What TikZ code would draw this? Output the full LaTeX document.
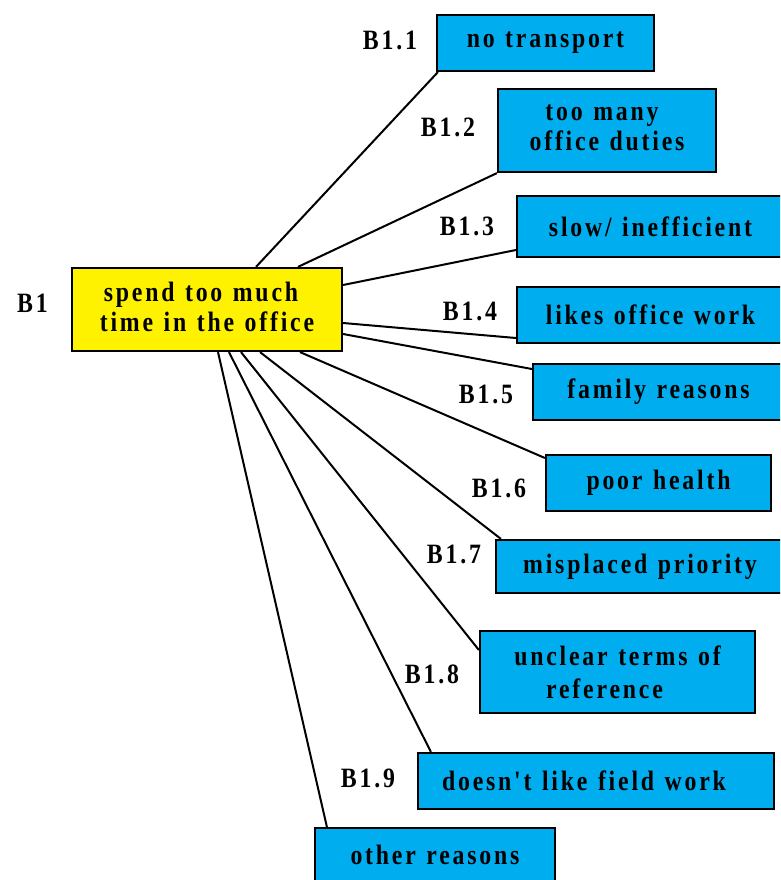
\documentclass[tikz,border=0pt]{standalone}
\usepackage{fontspec}
\newfontfamily\dfont{Liberation Serif}[LetterSpace=10, FakeStretch=0.85, WordSpace=1.2]
\definecolor{boxcyan}{HTML}{00AEEF}
\definecolor{boxyellow}{HTML}{FFF200}
\begin{document}
\begin{tikzpicture}[x=1pt,y=-1pt,
  every node/.style={font=\dfont\bfseries\fontsize{28}{30}\selectfont, align=center, inner sep=0pt},
  causebox/.style={draw=black, line width=2.2pt, fill=boxcyan},
  mainbox/.style={draw=black, line width=2.2pt, fill=boxyellow},
  lbl/.style={},
  conn/.style={draw=black, line width=2pt}]
\clip (0,0) rectangle (780,880);
\fill[white] (0,0) rectangle (780,880);
% main box
\node[mainbox, minimum width=270pt, minimum height=83pt, text depth=6pt] (c) at (207,309.5) {spend too much\hspace*{12pt}\\time in the office};
% cause boxes
\node[causebox, minimum width=217pt, minimum height=56pt] (nt) at (545.5,43) {no transport};
\node[causebox, minimum width=218pt, minimum height=83pt, text depth=6pt] (tm) at (607,130.5) {too many\hspace*{10pt}\\office duties};
\node[causebox, minimum width=267pt, minimum height=61pt] (sl) at (650.5,226.5) {slow/ inefficient};
\node[causebox, minimum width=267pt, minimum height=56pt] (lo) at (650.5,315) {likes office work};
\node[causebox, minimum width=251pt, minimum height=56pt] (fr) at (658.5,392) {family reasons};
\node[causebox, minimum width=225pt, minimum height=56pt] (ph) at (658.5,483) {poor health};
\node[causebox, minimum width=288pt, minimum height=53pt] (mp) at (640,566.5) {misplaced priority};
\node[causebox, minimum width=275pt, minimum height=82pt] (ut) at (617.5,672) {unclear terms of\\[3pt]reference\hspace*{26pt}};
\node[causebox, minimum width=356pt, minimum height=56pt] (dl) at (596,781) {doesn't like field work\hspace*{24pt}};
\node[causebox, minimum width=240pt, minimum height=54pt] (or) at (435,855) {other reasons};
% labels
\node[lbl] (l0) at (32.5,303) {B1};
\node[lbl] (l1) at (390,40) {B1.1};
\node[lbl] (l2) at (448,127) {B1.2};
\node[lbl] (l3) at (467,226) {B1.3};
\node[lbl] (l4) at (470,311) {B1.4};
\node[lbl] (l5) at (486,394) {B1.5};
\node[lbl] (l6) at (499,488) {B1.6};
\node[lbl] (l7) at (454,554) {B1.7};
\node[lbl] (l8) at (432,674) {B1.8};
\node[lbl] (l9) at (368,778) {B1.9};
% connectors
\draw[conn] ([xshift=49pt]c.north) -- ([xshift=2pt]nt.south west);
\draw[conn] ([xshift=91pt]c.north) -- (tm.south west);
\draw[conn] ([yshift=24.5pt]c.east) -- ([yshift=-23.5pt]sl.west);
\draw[conn] ([yshift=-13.5pt]c.east) -- ([yshift=-23pt]lo.west);
\draw[conn] ([yshift=-24.5pt]c.east) -- ([yshift=23pt]fr.west);
\draw[conn] ([xshift=93pt]c.south) -- ([yshift=25pt]ph.west);
\draw[conn] ([xshift=53pt]c.south) -- ([xshift=6pt]mp.north west);
\draw[conn] ([xshift=34pt]c.south) -- ([yshift=22pt]ut.west);
\draw[conn] ([xshift=22pt]c.south) -- ([xshift=14pt]dl.north west);
\draw[conn] ([xshift=11pt]c.south) -- ([xshift=13pt]or.north west);
\end{tikzpicture}
\end{document}
